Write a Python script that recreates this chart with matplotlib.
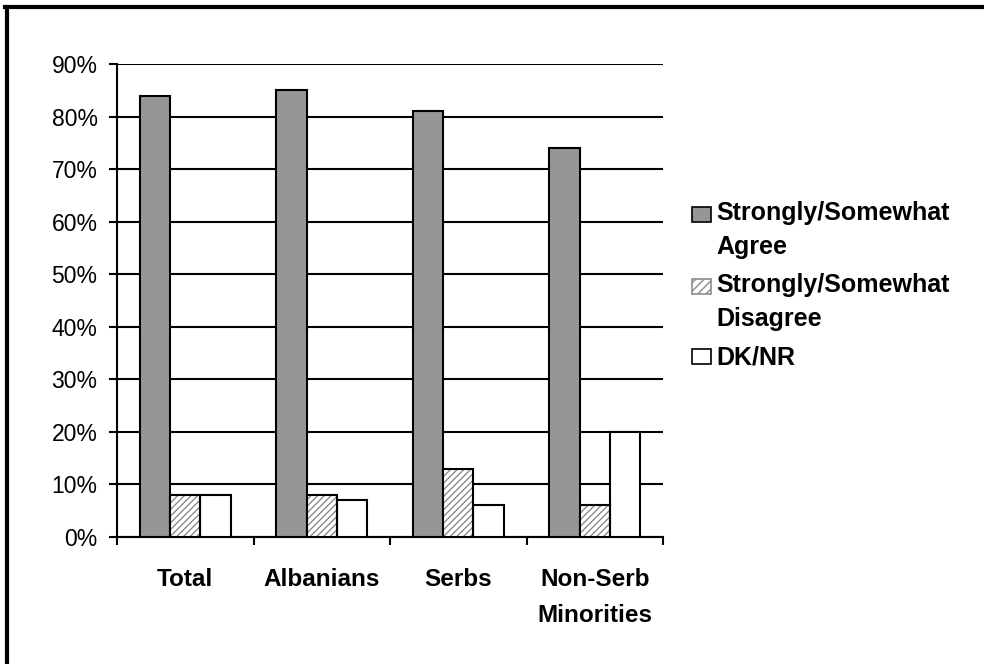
import matplotlib
matplotlib.use("Agg")
import matplotlib.pyplot as plt
import numpy as np
from matplotlib.patches import Rectangle
from matplotlib.lines import Line2D

plt.rcParams['font.family'] = ['Liberation Sans', 'DejaVu Sans']

categories = ["Total", "Albanians", "Serbs", "Non-Serb\nMinorities"]
agree = [84, 85, 81, 74]
disagree = [8, 8, 13, 6]
dknr = [8, 7, 6, 20]
series_labels = ["Strongly/Somewhat\nAgree", "Strongly/Somewhat\nDisagree", "DK/NR"]
yticks = [0, 10, 20, 30, 40, 50, 60, 70, 80, 90]

GRAY = "#969696"
HATCH_GRAY = "#8c8c8c"
LW = 1.5

fig = plt.figure(figsize=(9.84, 6.64), dpi=100)
ax = fig.add_axes([117/984, 1-537/664, (663-117)/984, (537-64)/664])

x = np.arange(len(categories))
w = 0.222

ax.bar(x - w, agree, w, color=GRAY, edgecolor="black", linewidth=LW, zorder=3)
ax.bar(x, disagree, w, color="white", edgecolor=HATCH_GRAY, hatch="/////", linewidth=0, zorder=3)
ax.bar(x, disagree, w, fill=False, edgecolor="black", linewidth=LW, zorder=4)
ax.bar(x + w, dknr, w, color="white", edgecolor="black", linewidth=LW, zorder=3)

ax.set_xlim(-0.5, len(categories) - 0.5)
ax.set_ylim(0, 90)
ax.set_yticks(yticks)
ax.set_yticklabels([f"{v}%" for v in yticks], fontsize=16.5)
ax.yaxis.grid(True, color="black", linewidth=LW, zorder=1)
ax.set_axisbelow(True)

ax.set_xticks(x)
ax.set_xticklabels(categories, fontsize=17.5, fontweight="bold", linespacing=1.75)
ax.set_xticks(np.arange(len(categories) + 1) - 0.5, minor=True)
ax.tick_params(axis="x", which="major", length=0, pad=22)
ax.tick_params(axis="x", which="minor", length=6, width=LW, direction="out", color="black")
ax.tick_params(axis="y", which="major", length=6, width=LW, direction="out", pad=8)

for s in ["top", "right"]:
    ax.spines[s].set_visible(False)
for s in ["left", "bottom"]:
    ax.spines[s].set_linewidth(LW)
    ax.spines[s].set_color("black")

# legend (drawn manually in figure pixel coordinates)
def fx(px):
    return px / 984
def fy(py):
    return 1 - py / 664

swatch_tops = [207, 279, 349]
last_baselines = [254, 326, 365]
styles = [dict(facecolor=GRAY, edgecolor="black"),
          dict(facecolor="white", edgecolor=HATCH_GRAY, hatch="////"),
          dict(facecolor="white", edgecolor="black")]
for lab, top, base, st in zip(series_labels, swatch_tops, last_baselines, styles):
    r = Rectangle((fx(692), fy(top + 15)), fx(19), 15/664, transform=fig.transFigure,
                  linewidth=1.2, **st)
    fig.add_artist(r)
    fig.text(fx(716), fy(base), lab, fontsize=18, fontweight="bold",
             va="baseline", ha="left", linespacing=1.55)

# outer frame (left and top edges visible)
fig.add_artist(Line2D([fx(7), fx(7)], [0, fy(7)], transform=fig.transFigure, color="black", linewidth=3))
fig.add_artist(Line2D([fx(5), 1], [fy(7), fy(7)], transform=fig.transFigure, color="black", linewidth=3))

fig.savefig("out.png", dpi=100)
